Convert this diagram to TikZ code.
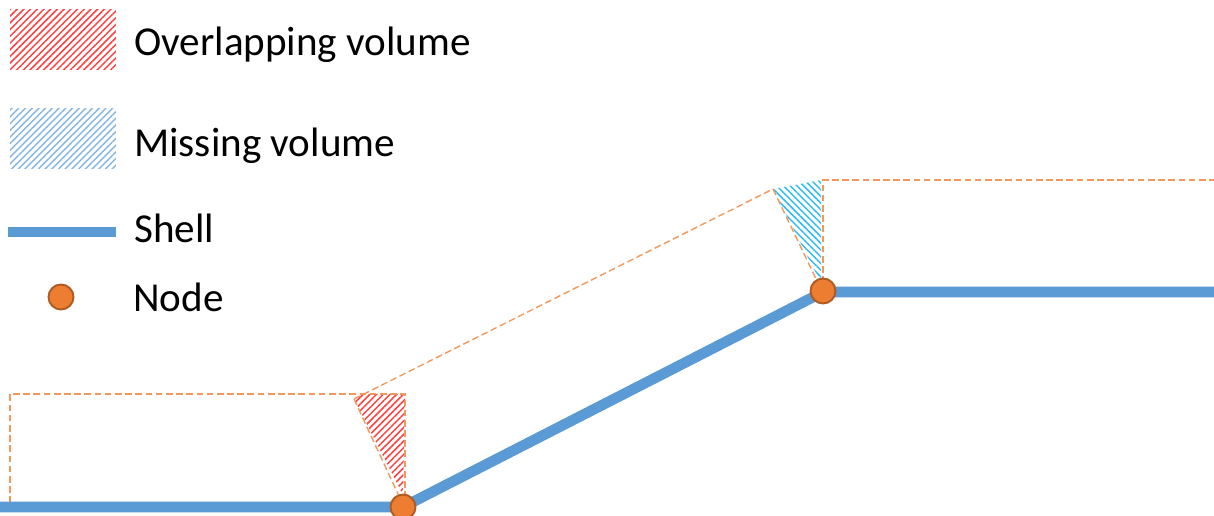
\documentclass[tikz,border=0pt]{standalone}
\usepackage{fontspec}
\setmainfont{Carlito}
\usetikzlibrary{patterns.meta}
\definecolor{shellblue}{HTML}{5B9BD5}
\definecolor{nodeorange}{HTML}{ED7D31}
\definecolor{nodeedge}{HTML}{AE5A21}
\definecolor{dashorange}{HTML}{F2985C}
\definecolor{hatchred}{HTML}{FF4040}
\definecolor{hatchblue}{HTML}{85B6E2}
\definecolor{hatchcyan}{HTML}{30BBF0}
\begin{document}
\begin{tikzpicture}[
  x=0.02cm, y=-0.02cm,
  every node/.style={font=\fontsize{23.4pt}{26pt}\selectfont},
  labeltext/.style={anchor=base west, inner sep=0pt, text=black},
  overlapbox/.style={rectangle, inner sep=0pt, minimum width=2.12cm, minimum height=1.2cm, pattern={Lines[angle=45, distance=2.7pt, line width=0.85pt]}, pattern color=hatchred},
  missingbox/.style={rectangle, inner sep=0pt, minimum width=2.12cm, minimum height=1.22cm, pattern={Lines[angle=45, distance=2.7pt, line width=0.8pt]}, pattern color=hatchblue},
  shellline/.style={draw=shellblue, line width=6pt},
  femnode/.style={circle, inner sep=0pt, minimum size=0.5cm, fill=nodeorange, draw=nodeedge, line width=1.1pt},
  outline/.style={draw=dashorange, line width=0.8pt, dash pattern=on 3.8pt off 2pt},
]
\useasboundingbox (0,0) rectangle (1214,516);

\node[overlapbox] (overlap) at (63, 40) {};
\node[missingbox] (missing) at (63, 138.5) {};
\node[labeltext] (overlaptxt) at (134, 56) {Overlapping volume};
\node[labeltext] (missingtxt) at (134, 157) {Missing volume};
\node[labeltext] (shelltxt) at (134, 243) {Shell};
\node[labeltext] (nodetxt) at (133, 312) {Node};

\coordinate (legA) at (8, 232);
\coordinate (legB) at (116, 232);
\draw[shellline] (legA) -- (legB);
\node[femnode] (legnode) at (61, 297) {};

\coordinate (shellA) at (0, 507);
\coordinate (shellB) at (1214, 292);
\coordinate (boxA) at (10, 503);
\coordinate (boxB) at (10, 394);
\coordinate (boxC) at (405, 394);
\coordinate (apexA) at (354, 399);
\coordinate (apexB) at (773, 189);
\coordinate (boxD) at (823, 180);
\coordinate (boxE) at (1214, 180);

\fill[pattern={Lines[angle=45, distance=2.7pt, line width=0.85pt]}, pattern color=hatchred] (apexA) -- (358, 394) -- (boxC) -- (403, 495) -- cycle;
\fill[pattern={Lines[angle=-45, distance=2.7pt, line width=0.85pt]}, pattern color=hatchcyan] (apexB) -- (821, 180) -- (821, 283) -- cycle;

\draw[outline] (boxA) -- (boxB) -- (boxC) -- (405, 497);
\draw[outline] (apexA) -- (apexB);
\draw[outline] (apexA) -- (398, 494);
\draw[outline] (apexB) -- (818, 283);
\draw[outline] (823, 283) -- (boxD) -- (boxE);

\draw[shellline] (shellA) -- (403, 507) -- (823, 292) -- (shellB);
\node[femnode] (nodeA) at (403, 507) {};
\node[femnode] (nodeB) at (823, 291) {};
\end{tikzpicture}
\end{document}
